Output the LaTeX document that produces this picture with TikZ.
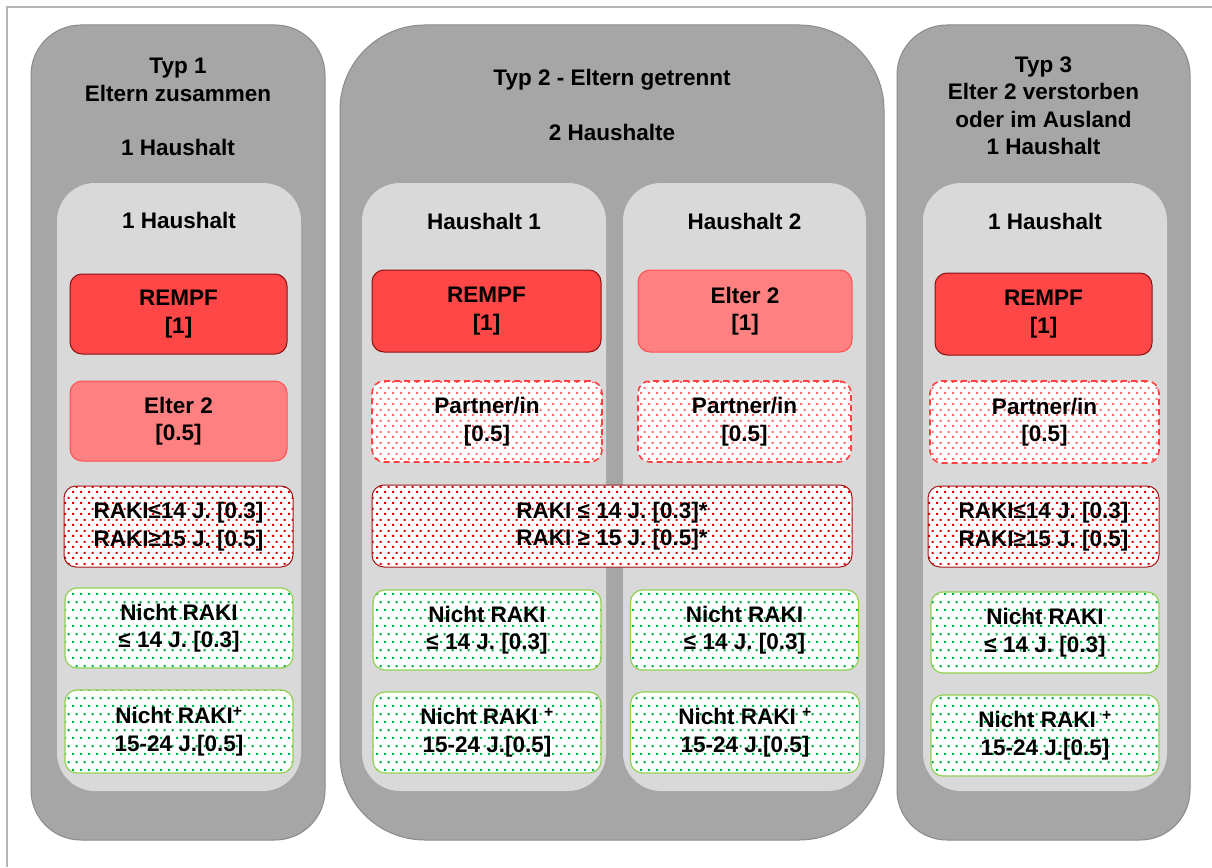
\documentclass[tikz,border=0pt]{standalone}
\usepackage{fontspec}
\setmainfont{Liberation Sans}
\usepackage{tikz}
\usetikzlibrary{patterns}
\usetikzlibrary{positioning}
\definecolor{typgray}{HTML}{A6A6A6}
\definecolor{typline}{HTML}{8A8A8A}
\definecolor{hhgray}{HTML}{D9D9D9}
\definecolor{rempfred}{HTML}{FF4747}
\definecolor{rempfline}{HTML}{8B1010}
\definecolor{elterred}{HTML}{FF8080}
\definecolor{elterline}{HTML}{FF5050}
\definecolor{rakired}{HTML}{DD0000}
\definecolor{rakiline}{HTML}{A31515}
\definecolor{partnerred}{HTML}{FF6A6A}
\definecolor{partnerline}{HTML}{FF4040}
\definecolor{nrgreen}{HTML}{00B050}
\definecolor{nrline}{HTML}{92D050}
\definecolor{framegray}{HTML}{B4B4B4}
\pgfdeclarepatternformonly{densedots}{\pgfqpoint{0pt}{0pt}}{\pgfqpoint{8pt}{11pt}}{\pgfqpoint{8pt}{11pt}}{%
  \pgfpathrectangle{\pgfqpoint{0pt}{0pt}}{\pgfqpoint{2.3pt}{2.3pt}}%
  \pgfpathrectangle{\pgfqpoint{4pt}{5.5pt}}{\pgfqpoint{2.3pt}{2.3pt}}%
  \pgfusepath{fill}}
\pgfdeclarepatternformonly{sparsedots}{\pgfqpoint{0pt}{0pt}}{\pgfqpoint{8pt}{16pt}}{\pgfqpoint{8pt}{16pt}}{%
  \pgfpathrectangle{\pgfqpoint{0pt}{0pt}}{\pgfqpoint{2.3pt}{2.3pt}}%
  \pgfpathrectangle{\pgfqpoint{4pt}{8pt}}{\pgfqpoint{2.3pt}{2.3pt}}%
  \pgfusepath{fill}}
\tikzstyle{typbox} = [rectangle, draw=typline, fill=typgray, line width=1pt,
    minimum height=815pt, inner sep=0pt]
\tikzstyle{hhbox} = [rectangle, fill=hhgray, rounded corners=38pt,
    minimum width=244pt, minimum height=608pt, inner sep=0pt]
\tikzstyle{headtext} = [align=center, inner sep=0pt]
\tikzstyle{member} = [rectangle, rounded corners=12pt, align=center,
    inner sep=0pt, minimum height=81pt, line width=1pt]
\tikzstyle{rempf} = [member, draw=rempfline, fill=rempfred]
\tikzstyle{elter} = [member, draw=elterline, fill=elterred]
\tikzstyle{partner} = [member, draw=partnerline, dash pattern=on 6pt off 4pt,
    line width=1.6pt, preaction={fill=white}, pattern=densedots,
    pattern color=partnerred]
\tikzstyle{raki} = [member, draw=rakiline, preaction={fill=white},
    pattern=densedots, pattern color=rakired]
\tikzstyle{nichtraki} = [member, draw=nrline, line width=1.2pt,
    preaction={fill=white}, pattern=sparsedots, pattern color=nrgreen]
\begin{document}
\begin{tikzpicture}[x=1pt, y=-1pt, font=\fontsize{22.5}{27.5}\selectfont\bfseries]
  \useasboundingbox[fill=white] (0,0) rectangle (1212,867);
  \draw[framegray, line width=1.2pt] (7,867) -- (7,7) -- (1212,7);
  % Place types
  \node[typbox, rounded corners=50pt, minimum width=294pt] (typ1) at (178,432.5) {};
  \node[typbox, rounded corners=85pt, minimum width=544pt] (typ2) at (612,432.5) {};
  \node[typbox, rounded corners=50pt, minimum width=293pt] (typ3) at (1043.5,432.5) {};
  \node[headtext] (typ1head) at (178,107) {Typ 1\\Eltern zusammen\\[27pt]1 Haushalt};
  \node[headtext] (typ2head) at (612,105) {Typ 2 - Eltern getrennt\\[27pt]2 Haushalte};
  \node[headtext] (typ3head) at (1043.5,106) {Typ 3\\Elter 2 verstorben\\oder im Ausland\\1 Haushalt};
  % Place households
  \node[hhbox] (hh1) at (179,487) {};
  \node[hhbox] (hh21) at (484,487) {};
  \node[hhbox, minimum width=243pt] (hh22) at (744.5,487) {};
  \node[hhbox] (hh3) at (1045,487) {};
  \node[headtext] (hh1head) at (179,220) {1 Haushalt};
  \node[headtext] (hh21head) at (484,221) {Haushalt 1};
  \node[headtext] (hh22head) at (744.5,221) {Haushalt 2};
  \node[headtext] (hh3head) at (1045,221) {1 Haushalt};
  % Typ 1
  \node[rempf, minimum width=217pt, minimum height=80pt] (rempf1) at (178.5,314) {REMPF\\{[1]}};
  \node[elter, minimum width=217pt, minimum height=80pt] (elter1) at (178.5,421) {Elter 2\\{[0.5]}};
  \node[raki, minimum width=229pt] (raki1) at (178.5,526.5) {RAKI≤14 J. [0.3]\\RAKI≥15 J. [0.5]};
  \node[nichtraki, minimum width=228pt, minimum height=80pt] (nr1) at (179,628) {Nicht RAKI\\≤ 14 J. [0.3]};
  \node[nichtraki, minimum width=228pt, minimum height=83pt] (nrp1) at (179,731.5) {Nicht RAKI\textsuperscript{+}\\15-24 J.[0.5]};
  % Typ 2
  \node[rempf, minimum width=229pt, minimum height=82pt] (rempf21) at (486.5,311) {REMPF\\{[1]}};
  \node[elter, minimum width=214pt, minimum height=82pt] (elter22) at (745,311) {Elter 2\\{[1]}};
  \node[partner, minimum width=230pt] (partner21) at (487,421.5) {Partner/in\\{[0.5]}};
  \node[partner, minimum width=213pt] (partner22) at (744.5,421.5) {Partner/in\\{[0.5]}};
  \node[raki, minimum width=480pt, minimum height=82pt] (raki2) at (612,526) {RAKI ≤ 14 J. [0.3]*\\RAKI ≥ 15 J. [0.5]*};
  \node[nichtraki, minimum width=228pt, minimum height=80pt] (nr21) at (487,630) {Nicht RAKI\\≤ 14 J. [0.3]};
  \node[nichtraki, minimum width=228pt, minimum height=80pt] (nr22) at (744.5,630) {Nicht RAKI\\≤ 14 J. [0.3]};
  \node[nichtraki, minimum width=228pt] (nrp21) at (487,732.5) {Nicht RAKI \textsuperscript{+}\\15-24 J.[0.5]};
  \node[nichtraki, minimum width=229pt] (nrp22) at (745,732.5) {Nicht RAKI \textsuperscript{+}\\15-24 J.[0.5]};
  % Typ 3
  \node[rempf, minimum width=217pt, minimum height=82pt] (rempf3) at (1043.5,314) {REMPF\\{[1]}};
  \node[partner, minimum width=229pt, minimum height=82pt] (partner3) at (1044.5,422) {Partner/in\\{[0.5]}};
  \node[raki, minimum width=231pt] (raki3) at (1043.5,526.5) {RAKI≤14 J. [0.3]\\RAKI≥15 J. [0.5]};
  \node[nichtraki, minimum width=228pt] (nr3) at (1045,632.5) {Nicht RAKI\\≤ 14 J. [0.3]};
  \node[nichtraki, minimum width=228pt] (nrp3) at (1045,735.5) {Nicht RAKI \textsuperscript{+}\\15-24 J.[0.5]};
\end{tikzpicture}
\end{document}
